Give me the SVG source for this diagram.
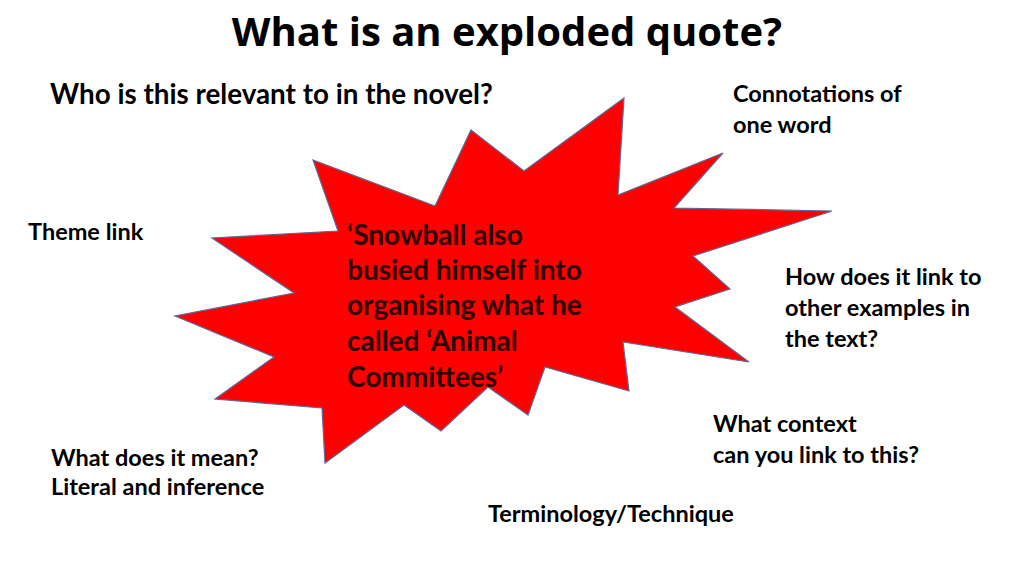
<svg xmlns="http://www.w3.org/2000/svg" width="1024" height="575" viewBox="0 0 1024 575">
<style>
.t{font-family:Lato,"Open Sans",sans-serif;font-weight:bold;fill:#000;font-size:23.5px}
.title{font-family:"Open Sans","Noto Sans",sans-serif;font-weight:bold;font-size:40px;fill:#000}
.q{font-family:Lato,"Open Sans",sans-serif;font-weight:bold;font-size:28px;fill:#2a0000}
</style>
<rect width="1024" height="575" fill="#fff"/>
<g id="title"><text class="title" x="507" y="46" text-anchor="middle">What is an exploded quote?</text></g>
<g id="star">
<polygon points="471,130 524,171 624,98 618,195 723,153 674,208 832,211 693,256 730,289 675,307 749,362 623,342 629,391 545,367 528,415 488,387 441,431 404,405 325,463 322,408 215,399 274,357 175,316 294,293 212,238 338,231 313,160 435,206" fill="#ff0000" stroke="#5a6a9a" stroke-width="1.2" stroke-linejoin="miter"/>
<text class="q" x="347" y="245">‘Snowball also</text>
<text class="q" x="347" y="280">busied himself into</text>
<text class="q" x="347" y="315">organising what he</text>
<text class="q" x="347" y="351">called ‘Animal</text>
<text class="q" x="347" y="387">Committees’</text>
</g>
<g id="who"><text class="t" x="50" y="104" style="font-size:27.8px">Who is this relevant to in the novel?</text></g>
<g id="connotations"><text class="t" x="733" y="102">Connotations of</text><text class="t" x="733" y="133">one word</text></g>
<g id="theme"><text class="t" x="28" y="240">Theme link</text></g>
<g id="link"><text class="t" x="785" y="285">How does it link to</text><text class="t" x="785" y="316">other examples in</text><text class="t" x="785" y="347">the text?</text></g>
<g id="context"><text class="t" x="713" y="432">What context</text><text class="t" x="713" y="463">can you link to this?</text></g>
<g id="meaning"><text class="t" x="51" y="466">What does it mean?</text><text class="t" x="51" y="495">Literal and inference</text></g>
<g id="terminology"><text class="t" x="488" y="522">Terminology/Technique</text></g>
<g id="connectors"></g>
</svg>
